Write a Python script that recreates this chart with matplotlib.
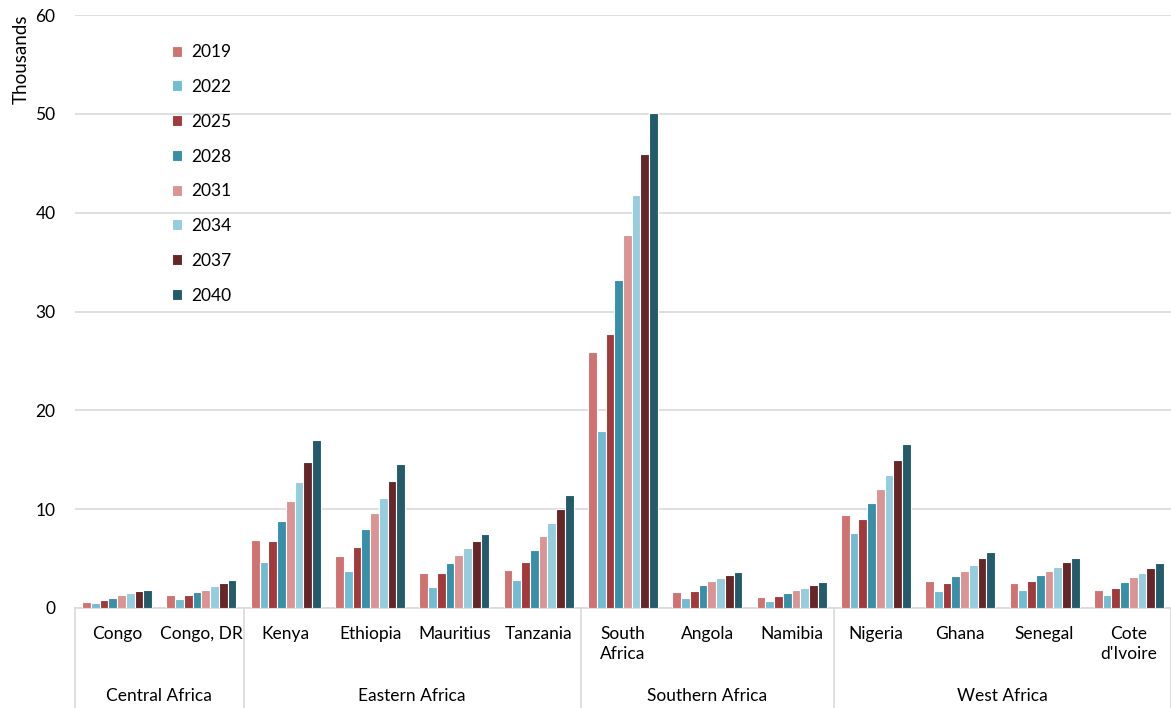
import matplotlib.pyplot as plt
import numpy as np

plt.rcParams['font.family'] = ['Lato', 'DejaVu Sans']

regions = ['Central Africa', 'Eastern Africa', 'Southern Africa', 'West Africa']
region_sizes = [2, 4, 3, 4]
countries = ['Congo', 'Congo, DR', 'Kenya', 'Ethiopia', 'Mauritius', 'Tanzania',
             'South\nAfrica', 'Angola', 'Namibia', 'Nigeria', 'Ghana', 'Senegal',
             "Cote\nd'Ivoire"]
years = ['2019', '2022', '2025', '2028', '2031', '2034', '2037', '2040']

# thousands, one list per year, in country order
v2019 = [0.61, 1.35, 6.9, 5.3, 3.5, 3.85, 25.9, 1.66, 1.13, 9.45, 2.75, 2.52, 1.84]
v2022 = [0.47, 0.91, 4.65, 3.75, 2.1, 2.82, 17.9, 1.05, 0.7, 7.55, 1.77, 1.8, 1.27]
v2025 = [0.84, 1.36, 6.8, 6.2, 3.56, 4.65, 27.7, 1.7, 1.21, 9.0, 2.48, 2.72, 2.04]
v2028 = [1.05, 1.63, 8.82, 7.97, 4.52, 5.9, 33.2, 2.3, 1.53, 10.58, 3.2, 3.3, 2.62]
v2031 = [1.29, 1.87, 10.78, 9.6, 5.33, 7.3, 37.7, 2.7, 1.82, 12.06, 3.74, 3.74, 3.12]
v2034 = [1.49, 2.18, 12.74, 11.18, 6.04, 8.62, 41.8, 3.02, 2.06, 13.48, 4.38, 4.15, 3.54]
v2037 = [1.67, 2.51, 14.76, 12.84, 6.79, 10.0, 45.9, 3.35, 2.34, 14.96, 5.02, 4.62, 4.01]
v2040 = [1.87, 2.88, 17.0, 14.56, 7.5, 11.45, 50.1, 3.63, 2.59, 16.58, 5.7, 5.09, 4.52]
series = [v2019, v2022, v2025, v2028, v2031, v2034, v2037, v2040]

colors = ['#D07272', '#70BDD3', '#A23A3B', '#378FA8', '#DB9494', '#93CDDE', '#662627', '#235B6B']

fig = plt.figure(figsize=(11.71, 7.08), dpi=100)
ax = fig.add_axes([75 / 1171, 100 / 708, 1096 / 1171, 593 / 708])

x = np.arange(len(countries))
n = len(series)
w = 0.83 / n
for i, (vals, c, yr) in enumerate(zip(series, colors, years)):
    ax.bar(x - 0.415 + w * (i + 0.5), vals, width=w, color=c, edgecolor='white',
           linewidth=0.8, label=yr, zorder=3)

ax.set_xlim(-0.5, len(countries) - 0.5)
ax.set_ylim(0, 60)
ax.set_yticks(range(0, 61, 10))
ax.tick_params(axis='y', length=0, labelsize=12.5, pad=14)
ax.set_xticks([])
ax.grid(axis='y', color='#D9D9D9', linewidth=1.2, zorder=0)
for s in ['top', 'right', 'left']:
    ax.spines[s].set_visible(False)
ax.spines['bottom'].set_color('#D9D9D9')
ax.spines['bottom'].set_linewidth(1.2)
ax.set_ylabel('Thousands', fontsize=13.5, loc='top', labelpad=4)

# two level category axis
trans = ax.get_xaxis_transform()
for i, name in enumerate(countries):
    ax.text(i, -0.03, name, transform=trans, ha='center', va='top', fontsize=12.5,
            linespacing=1.3)
bounds = np.cumsum([0] + region_sizes) - 0.5
for b in bounds:
    ax.plot([b, b], [0, -100 / 593], transform=trans, color='#D9D9D9', lw=1.2,
            clip_on=False)
for r, lo, hi in zip(regions, bounds[:-1], bounds[1:]):
    ax.text((lo + hi) / 2, -0.148, r, transform=trans, ha='center', va='center',
            fontsize=12.5)

ax.legend(loc='upper left', bbox_to_anchor=(0.074, 0.977), frameon=False, fontsize=12.5,
          handlelength=0.6, handleheight=0.6, handletextpad=0.5, labelspacing=1.08)

fig.savefig('out.png', dpi=100)
